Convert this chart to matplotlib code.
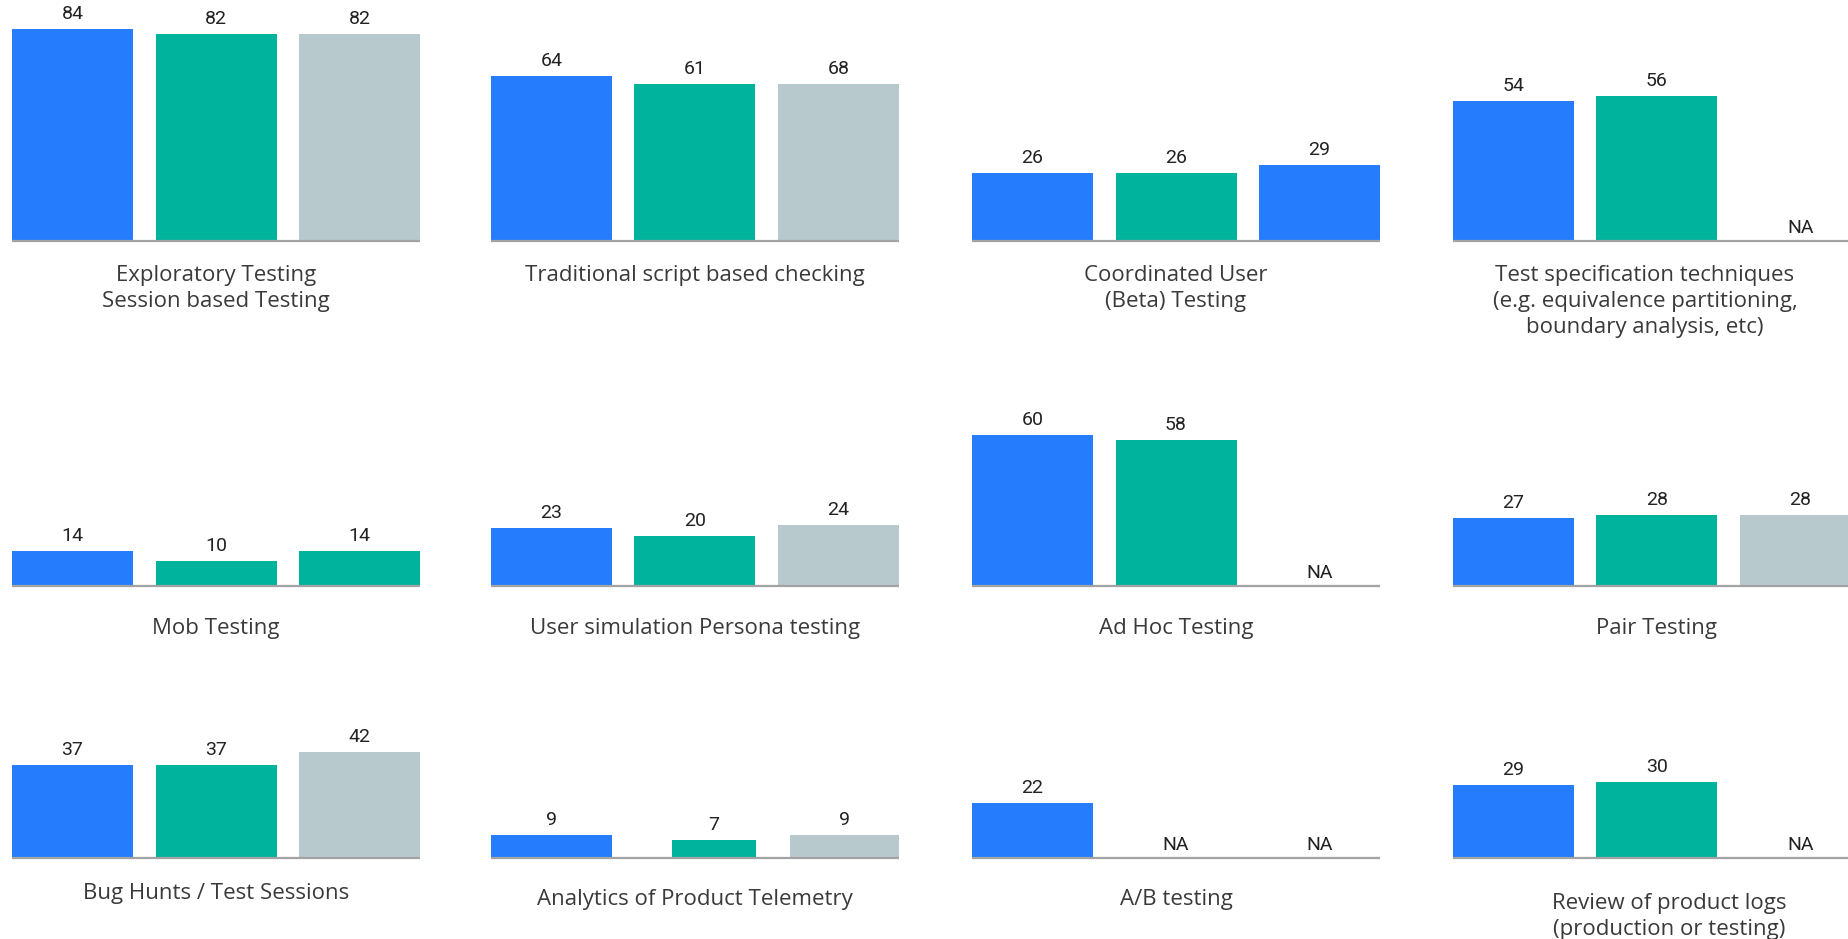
import matplotlib
matplotlib.use("Agg")
import matplotlib.pyplot as plt

# survey results, three series per technique (None = NA)
titles = [
    "Exploratory Testing\nSession based Testing",
    "Traditional script based checking",
    "Coordinated User\n(Beta) Testing",
    "Test specification techniques\n(e.g. equivalence partitioning,\nboundary analysis, etc)",
    "Mob Testing",
    "User simulation Persona testing",
    "Ad Hoc Testing",
    "Pair Testing",
    "Bug Hunts / Test Sessions",
    "Analytics of Product Telemetry",
    "A/B testing",
    "Review of product logs\n(production or testing)",
]

exploratory = [84, 82, 82]
traditional = [64, 61, 68]
coordinated_user = [26, 26, 29]
test_spec = [54, 56, None]
mob = [14, 10, 14]
user_simulation = [23, 20, 24]
ad_hoc = [60, 58, None]
pair = [27, 28, 28]
bug_hunts = [37, 37, 42]
analytics = [9, 7, 9]
ab_testing = [22, None, None]
product_logs = [29, 30, None]

values = [exploratory, traditional, coordinated_user, test_spec,
          mob, user_simulation, ad_hoc, pair,
          bug_hunts, analytics, ab_testing, product_logs]

# the source draws the "68" bar at the height of the "61" bar
bar_heights = {1: [64, 61, 61]}

BLUE = "#257DFD"
TEAL = "#00B39D"
GREY = "#B8C9CD"
default_colors = [BLUE, TEAL, GREY]
panel_colors = {2: [BLUE, TEAL, BLUE], 4: [BLUE, TEAL, TEAL]}

W, H = 1849, 939
fig = plt.figure(figsize=(W / 100, H / 100), dpi=100)

col_left = [12, 491, 972, 1453]
row_base = [241, 586, 858]
label_gap = [[36, 36, 36, 36], [44, 44, 44, 44], [37, 43, 43, 47]]
label_dx = {3: -12, 11: 12}
pitch = 143.5
bw = 121 / pitch
ax_h = 227
ymax = 90
# the top row panels use slightly different value scales
panel_ymax = {1: 88, 2: 86.5, 3: 87.5}

# odd bar widths in the telemetry panel (width, shift) in pitch units
bar_geom = {9: [(bw, 0), (0.585, 0.13), (0.76, 0.04)]}

for i, vals in enumerate(values):
    r, c = divmod(i, 4)
    left = col_left[c]
    base = row_base[r]
    ax_w = 2 * pitch + 121
    ax = fig.add_axes([left / W, 1 - base / H, ax_w / W, ax_h / H])
    ax.set_xlim(-bw / 2, 2 + bw / 2)
    ax.set_ylim(0, panel_ymax.get(i, ymax))
    ax.axis("off")

    heights = bar_heights.get(i, vals)
    colors = panel_colors.get(i, default_colors)
    geom = bar_geom.get(i, [(bw, 0)] * 3)
    for j, v in enumerate(vals):
        w, dx = geom[j]
        if v is None:
            ax.annotate("NA", (j, 0), xytext=(0, 4), textcoords="offset pixels",
                        ha="center", va="bottom", fontsize=14, family="Roboto",
                        color="#222222")
            continue
        h = heights[j]
        ax.bar(j + dx, h, width=w, color=colors[j], zorder=2)
        ax.annotate(str(v), (j + dx, h), xytext=(0, 6), textcoords="offset pixels",
                    ha="center", va="bottom", fontsize=14, family="Roboto",
                    color="#222222")

    ax.plot([-bw / 2, 2 + bw / 2], [0, 0], color="#A3A3A3", lw=1.6,
            solid_capstyle="butt", zorder=3, clip_on=False)

    ax.annotate(titles[i], (1, 0), xytext=(label_dx.get(i, 0), -label_gap[r][c] + 12),
                textcoords="offset pixels", ha="center", va="top",
                fontsize=16, family="Open Sans", color="#3A3A3A",
                linespacing=1.3)

fig.savefig("out.png", dpi=100)
